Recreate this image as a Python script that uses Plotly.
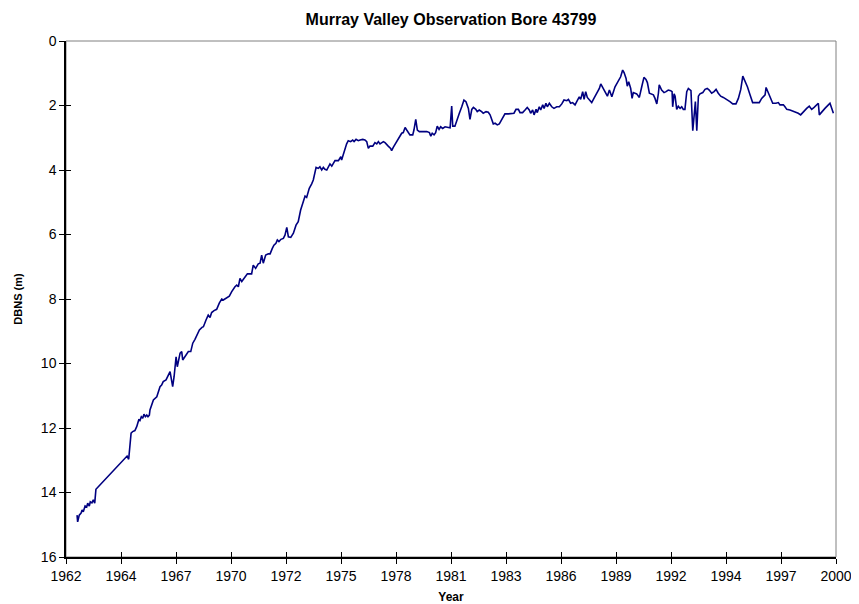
import plotly.graph_objects as go

title = "Murray Valley Observation Bore 43799"
x_title = "Year"
y_title = "DBNS (m)"

# decimal year of each reading
years = [
    1962.55, 1962.58, 1962.66, 1962.75, 1962.80, 1962.86, 1962.95, 1963.03, 1963.08, 1963.16,
    1963.21, 1963.29, 1963.36, 1963.43, 1963.49, 1965.04, 1965.12, 1965.24, 1965.32, 1965.43,
    1965.52, 1965.62, 1965.68, 1965.75, 1965.82, 1965.88, 1965.95, 1966.02, 1966.08, 1966.15,
    1966.18, 1966.23, 1966.28, 1966.35, 1966.52, 1966.60, 1966.68, 1966.76, 1966.84, 1966.98,
    1967.09, 1967.18, 1967.31, 1967.38, 1967.48, 1967.54, 1967.68, 1967.76, 1967.81, 1967.92,
    1968.09, 1968.21, 1968.31, 1968.42, 1968.51, 1968.64, 1968.77, 1968.84, 1968.97, 1969.08,
    1969.17, 1969.25, 1969.37, 1969.50, 1969.63, 1969.75, 1969.83, 1970.00, 1970.13, 1970.25,
    1970.33, 1970.41, 1970.50, 1970.58, 1970.66, 1970.75, 1970.83, 1970.96, 1971.03, 1971.24,
    1971.32, 1971.44, 1971.57, 1971.66, 1971.74, 1971.82, 1971.94, 1972.07, 1972.16, 1972.27,
    1972.35, 1972.45, 1972.52, 1972.60, 1972.70, 1972.82, 1972.90, 1972.99, 1973.07, 1973.19,
    1973.32, 1973.45, 1973.56, 1973.68, 1973.78, 1973.90, 1973.98, 1974.11, 1974.23, 1974.31,
    1974.45, 1974.56, 1974.64, 1974.73, 1974.81, 1974.89, 1974.98, 1975.06, 1975.14, 1975.23,
    1975.31, 1975.39, 1975.56, 1975.68, 1975.72, 1975.84, 1975.97, 1976.05, 1976.17, 1976.27,
    1976.34, 1976.44, 1976.55, 1976.64, 1976.77, 1976.88, 1976.97, 1977.05, 1977.13, 1977.27,
    1977.38, 1977.47, 1977.55, 1977.63, 1977.72, 1977.80, 1977.88, 1977.96, 1978.04, 1978.16,
    1978.21, 1978.29, 1978.43, 1978.54, 1978.63, 1978.71, 1978.79, 1978.88, 1978.96, 1979.04,
    1979.12, 1979.26, 1979.32, 1979.41, 1979.49, 1979.59, 1979.79, 1979.96, 1980.09, 1980.16,
    1980.23, 1980.32, 1980.40, 1980.48, 1980.57, 1980.65, 1980.75, 1980.87, 1981.03, 1981.12,
    1981.20, 1981.25, 1981.36, 1981.45, 1981.58, 1981.70, 1981.81, 1981.91, 1982.03, 1982.11,
    1982.20, 1982.28, 1982.40, 1982.47, 1982.57, 1982.69, 1982.77, 1982.91, 1983.02, 1983.11,
    1983.19, 1983.27, 1983.36, 1983.47, 1983.57, 1983.69, 1983.77, 1983.85, 1984.02, 1984.19,
    1984.30, 1984.40, 1984.52, 1984.60, 1984.73, 1984.85, 1984.96, 1985.06, 1985.13, 1985.23,
    1985.30, 1985.40, 1985.46, 1985.56, 1985.63, 1985.73, 1985.80, 1985.89, 1985.96, 1986.06,
    1986.18, 1986.29, 1986.43, 1986.56, 1986.68, 1986.79, 1986.93, 1987.01, 1987.12, 1987.22,
    1987.34, 1987.45, 1987.55, 1987.62, 1987.72, 1987.79, 1987.87, 1987.95, 1988.05, 1988.17,
    1988.28, 1988.42, 1988.55, 1988.62, 1988.72, 1988.83, 1988.95, 1989.05, 1989.17, 1989.33,
    1989.44, 1989.54, 1989.61, 1989.71, 1989.78, 1989.88, 1989.94, 1990.01, 1990.11, 1990.18,
    1990.24, 1990.41, 1990.54, 1990.66, 1990.77, 1990.87, 1990.94, 1991.04, 1991.16, 1991.24,
    1991.32, 1991.41, 1991.49, 1991.53, 1991.65, 1991.77, 1991.87, 1991.98, 1992.10, 1992.17,
    1992.20, 1992.27, 1992.32, 1992.40, 1992.48, 1992.57, 1992.65, 1992.73, 1992.81, 1992.90,
    1992.98, 1993.06, 1993.11, 1993.20, 1993.26, 1993.33, 1993.40, 1993.48, 1993.56, 1993.70,
    1993.81, 1993.92, 1994.02, 1994.14, 1994.26, 1994.36, 1994.47, 1994.59, 1994.72, 1994.89,
    1995.05, 1995.19, 1995.35, 1995.47, 1995.59, 1995.69, 1995.80, 1995.92, 1996.05, 1996.18,
    1996.35, 1996.51, 1996.63, 1996.80, 1996.85, 1996.96, 1997.05, 1997.18, 1997.34, 1997.46,
    1997.54, 1997.71, 1997.79, 1997.88, 1998.04, 1998.29, 1998.45, 1998.57, 1998.70, 1998.87,
    1999.00, 1999.12, 1999.24, 1999.37, 1999.45, 1999.50, 1999.62, 1999.78, 1999.95, 2000.03,
    2000.12, 2000.20,
]

# depth below natural surface (m)
dbns = [
    14.70, 14.91, 14.70, 14.64, 14.54, 14.60, 14.42, 14.45, 14.33, 14.42,
    14.29, 14.32, 14.23, 14.33, 13.90, 12.87, 12.97, 12.16, 12.11, 12.08,
    11.96, 11.75, 11.77, 11.65, 11.70, 11.57, 11.65, 11.60, 11.65, 11.60,
    11.44, 11.34, 11.23, 11.13, 11.03, 10.87, 10.72, 10.67, 10.56, 10.51,
    10.39, 10.25, 10.72, 10.41, 9.79, 10.10, 9.68, 9.63, 9.89, 9.79,
    9.63, 9.63, 9.37, 9.25, 9.12, 8.96, 8.88, 8.86, 8.65, 8.50,
    8.57, 8.42, 8.36, 8.32, 8.13, 8.00, 8.03, 7.95, 7.91, 7.77,
    7.67, 7.62, 7.57, 7.62, 7.36, 7.46, 7.39, 7.26, 7.22, 7.22,
    6.95, 7.05, 6.91, 6.89, 6.64, 6.89, 6.64, 6.60, 6.60, 6.43,
    6.33, 6.27, 6.17, 6.22, 6.15, 6.12, 6.02, 5.78, 6.07, 6.09,
    5.96, 5.71, 5.60, 5.24, 5.03, 4.81, 4.85, 4.57, 4.43, 4.31,
    3.92, 3.95, 3.90, 4.00, 3.92, 3.98, 4.00, 3.92, 3.81, 3.88,
    3.77, 3.71, 3.71, 3.59, 3.69, 3.43, 3.19, 3.09, 3.12, 3.07,
    3.12, 3.05, 3.09, 3.07, 3.05, 3.07, 3.12, 3.33, 3.26, 3.26,
    3.15, 3.19, 3.12, 3.19, 3.15, 3.12, 3.15, 3.22, 3.26, 3.33,
    3.40, 3.30, 3.15, 3.05, 2.91, 2.86, 2.84, 2.68, 2.76, 2.84,
    2.91, 2.91, 2.76, 2.43, 2.76, 2.81, 2.81, 2.81, 2.84, 2.95,
    2.86, 2.91, 2.84, 2.64, 2.74, 2.66, 2.71, 2.66, 2.68, 2.69,
    2.02, 2.64, 2.64, 2.45, 2.24, 2.04, 1.83, 1.88, 2.09, 2.43,
    2.12, 2.06, 2.12, 2.19, 2.14, 2.19, 2.24, 2.19, 2.21, 2.29,
    2.45, 2.57, 2.55, 2.60, 2.57, 2.45, 2.33, 2.26, 2.26, 2.26,
    2.24, 2.12, 2.12, 2.22, 2.22, 2.14, 2.06, 2.14, 2.24, 2.14,
    2.29, 2.12, 2.22, 2.04, 2.14, 1.98, 2.09, 1.93, 2.04, 1.93,
    2.04, 2.09, 2.04, 2.04, 1.95, 1.83, 1.85, 1.81, 1.93, 1.91,
    1.98, 1.85, 1.73, 1.81, 1.57, 1.81, 1.57, 1.75, 1.83, 1.91,
    1.78, 1.64, 1.47, 1.33, 1.44, 1.57, 1.71, 1.52, 1.73, 1.42,
    1.29, 1.19, 1.11, 0.90, 0.98, 1.16, 1.40, 1.26, 1.47, 1.78,
    1.60, 1.64, 1.75, 1.42, 1.13, 1.19, 1.29, 1.62, 1.64, 1.67,
    1.78, 1.95, 1.62, 1.36, 1.52, 1.60, 1.57, 1.52, 1.54, 1.57,
    2.04, 1.64, 1.71, 2.12, 2.02, 2.09, 2.04, 2.12, 2.12, 1.57,
    1.47, 1.52, 1.54, 2.78, 2.24, 1.88, 2.78, 1.71, 1.64, 1.60,
    1.50, 1.47, 1.52, 1.62, 1.57, 1.50, 1.62, 1.71, 1.75, 1.81,
    1.88, 1.95, 1.95, 1.78, 1.50, 1.09, 1.23, 1.42, 1.67, 1.91,
    1.91, 1.91, 1.78, 1.67, 1.44, 1.62, 1.78, 1.93, 1.93, 1.91,
    1.98, 1.98, 2.04, 2.12, 2.14, 2.19, 2.24, 2.29, 2.19, 2.09,
    2.02, 2.12, 2.06, 1.98, 1.93, 2.29, 2.19, 2.09, 1.98, 1.93,
    2.09, 2.24,
]

# Excel date axis starting 1 Jan 1962, major unit 1000 days
tick_labels = ["1962", "1964", "1967", "1970", "1972", "1975", "1978", "1981",
               "1983", "1986", "1989", "1992", "1994", "1997", "2000"]
x_start = 1962.0
tick_step_years = 1000 / 365.25
tick_vals = [x_start + i * tick_step_years for i in range(len(tick_labels))]
x_end = tick_vals[-1]

FONT = "Liberation Sans, Arial, sans-serif"

fig = go.Figure()
fig.add_trace(go.Scatter(
    x=years, y=dbns, mode="lines",
    line=dict(color="#000080", width=1.6),
    hoverinfo="x+y", showlegend=False,
))
# invisible trace on overlay axes so the crossing tick marks render
fig.add_trace(go.Scatter(x=[x_start], y=[0], xaxis="x2", yaxis="y2",
                         mode="markers", marker=dict(opacity=0), showlegend=False,
                         hoverinfo="skip"))

axis_font = dict(family=FONT, size=14, color="black")

# the page body adds an 8px margin, so the figure is 8px smaller on each side
fig.update_layout(
    width=851, height=596,
    margin=dict(l=58, r=23, t=33, b=47, autoexpand=False),
    paper_bgcolor="white", plot_bgcolor="white",
    title=dict(text="<b>" + title + "</b>", x=0.5, xanchor="center",
               xref="paper", y=1 - 11 / 596, yanchor="middle", automargin=False,
               font=dict(family=FONT, size=16, color="black")),
    xaxis=dict(range=[x_start, x_end], tickvals=tick_vals, ticktext=tick_labels,
               automargin=False,
               showgrid=False, zeroline=False, showline=True, linecolor="black",
               linewidth=1.5, ticks="outside", ticklen=5, tickcolor="black",
               tickwidth=1, tickfont=axis_font,
               title=dict(text="<b>" + x_title + "</b>", standoff=11,
                          font=dict(family=FONT, size=12, color="black"))),
    yaxis=dict(range=[16, 0], dtick=2, tick0=0, showgrid=False, zeroline=False,
               automargin=False,
               showline=True, linecolor="black", linewidth=1.5, ticks="outside",
               ticklen=5, tickcolor="black", tickwidth=1, tickfont=axis_font,
               title=dict(text="<b>" + y_title + "</b>", standoff=16,
                          font=dict(family=FONT, size=11, color="black"))),
    xaxis2=dict(overlaying="x", range=[x_start, x_end], tickvals=tick_vals,
                automargin=False,
                showticklabels=False, showgrid=False, zeroline=False, showline=False,
                ticks="inside", ticklen=5, tickcolor="black", tickwidth=1),
    yaxis2=dict(overlaying="y", range=[16, 0], dtick=2, tick0=0, automargin=False,
                showticklabels=False, showgrid=False, zeroline=False, showline=False,
                ticks="inside", ticklen=5, tickcolor="black", tickwidth=1),
    shapes=[dict(type="rect", xref="paper", yref="paper", x0=0, x1=1, y0=0, y1=1,
                 line=dict(color="#808080", width=1), layer="below")],
)

fig.write_html("out.html")
